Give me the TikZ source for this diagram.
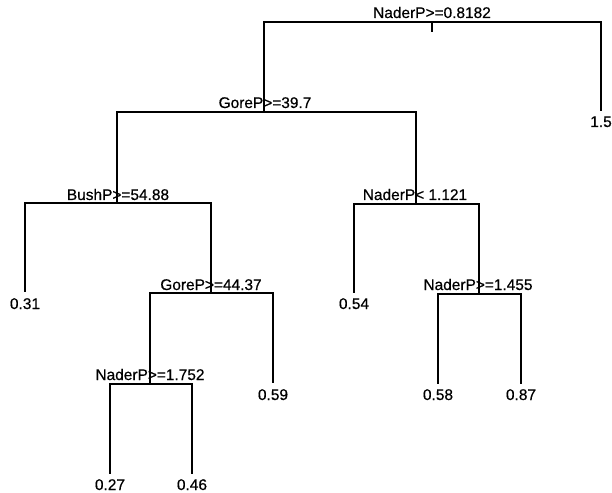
\documentclass[tikz,border=0pt]{standalone}
\usepackage{fontspec}
\setmainfont{Liberation Sans}
\newfontfamily\labfont{Liberation Sans}[FakeBold=0.5]
\begin{document}
\begin{tikzpicture}[x=1bp,y=-1bp]
\tikzset{
  edge/.style={draw=black,line width=1.5bp,line cap=rect},
  split/.style={anchor=base,inner sep=0pt,font=\labfont\fontsize{15.5}{18}\selectfont},
  leaf/.style={anchor=base,inner sep=0pt,font=\labfont\fontsize{15.5}{18}\selectfont}
}
\useasboundingbox (0,0) rectangle (612,493);
% split points and leaf ends
\coordinate (n0) at (432,22);
\coordinate (tk) at (432,31);
\coordinate (n1) at (264,112);
\coordinate (e15) at (601,110);
\coordinate (n2) at (117,203);
\coordinate (n3) at (416,204);
\coordinate (e31) at (25,291);
\coordinate (n4) at (211,293);
\coordinate (e54) at (354,292);
\coordinate (n5) at (479,294);
\coordinate (n6) at (150,384);
\coordinate (e59) at (273,382);
\coordinate (e58) at (438,383);
\coordinate (e87) at (521,383);
\coordinate (e27) at (110,473);
\coordinate (e46) at (192,473);
% split labels
\node[split] (t0) at (432,18) {NaderP>=0.8182};
\node[split] (t1) at (265,108) {GoreP>=39.7};
\node[split] (t2) at (118,200) {BushP>=54.88};
\node[split] (t3) at (415,200) {NaderP< 1.121};
\node[split] (t4) at (211,290) {GoreP>=44.37};
\node[split] (t5) at (478,290) {NaderP>=1.455};
\node[split] (t6) at (150,380) {NaderP>=1.752};
% leaf labels
\node[leaf] (v15) at (601,127) {1.5};
\node[leaf] (v31) at (25,309) {0.31};
\node[leaf] (v54) at (354,309) {0.54};
\node[leaf] (v59) at (273,400) {0.59};
\node[leaf] (v58) at (438,400) {0.58};
\node[leaf] (v87) at (521,400) {0.87};
\node[leaf] (v27) at (110,490) {0.27};
\node[leaf] (v46) at (192,490) {0.46};
% connectors
\draw[edge] (n0) -- (tk);
\draw[edge] (n1) -- (n1 |- n0) -- (e15 |- n0) -- (e15);
\draw[edge] (n2) -- (n2 |- n1) -- (n3 |- n1) -- (n3);
\draw[edge] (e31) -- (e31 |- n2) -- (n4 |- n2) -- (n4);
\draw[edge] (e54) -- (e54 |- n3) -- (n5 |- n3) -- (n5);
\draw[edge] (n6) -- (n6 |- n4) -- (e59 |- n4) -- (e59);
\draw[edge] (e58) -- (e58 |- n5) -- (e87 |- n5) -- (e87);
\draw[edge] (e27) -- (e27 |- n6) -- (e46 |- n6) -- (e46);
\end{tikzpicture}
\end{document}
